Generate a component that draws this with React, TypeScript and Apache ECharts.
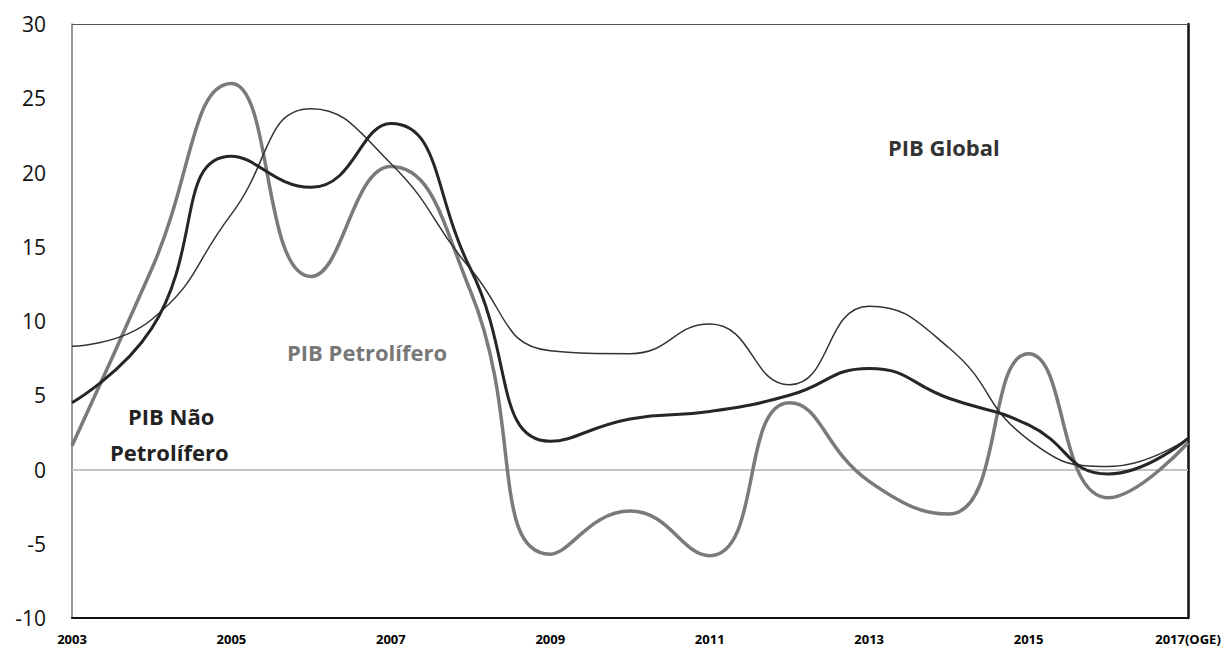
import React, { useEffect, useRef } from "react";
import * as echarts from "echarts";

const years = ["2003", "2004", "2005", "2006", "2007", "2008", "2009", "2010", "2011", "2012", "2013", "2014", "2015", "2016", "2017(OGE)"];
const pibGlobal = [4.5, 9.5, 21.1, 19.0, 23.3, 13.5, 1.9, 3.4, 3.9, 5.0, 6.8, 4.8, 3.0, -0.3, 2.1];
const pibPetrolifero = [1.6, 13.5, 26.0, 13.0, 20.4, 12.0, -5.7, -2.8, -5.8, 4.5, -0.8, -3.0, 7.8, -1.9, 1.8];
const pibNaoPetrolifero = [8.3, 10.1, 17.2, 24.3, 20.6, 13.5, 8.0, 7.8, 9.8, 5.7, 11.0, 8.2, 2.0, 0.2, 2.1];

export default function App() {
  const ref = useRef<HTMLDivElement>(null);
  useEffect(() => {
    document.body.style.margin = "0";
    const chart = echarts.init(ref.current!, null, { renderer: "svg" });
    chart.setOption({
      animation: false,
      backgroundColor: "#ffffff",
      grid: { left: 72, right: 40, top: 24, bottom: 30, show: false },
      xAxis: [
        {
          type: "category",
          data: years,
          boundaryGap: false,
          axisLine: { onZero: false, lineStyle: { color: "#111", width: 2 } },
          axisTick: { show: false },
          axisLabel: { interval: 1, color: "#000", fontWeight: "bold", fontSize: 13, fontFamily: "Open Sans", margin: 14 },
          splitLine: { show: false },
        },
        {
          type: "category",
          data: years,
          position: "top",
          boundaryGap: false,
          axisLine: { onZero: false, lineStyle: { color: "#555", width: 1 } },
          axisTick: { show: false },
          axisLabel: { show: false },
          splitLine: { show: false },
        },
      ],
      yAxis: [
        {
          type: "value",
          min: -10,
          max: 30,
          interval: 5,
          axisLine: { show: true, lineStyle: { color: "#777", width: 1.5 } },
          axisTick: { show: false },
          axisLabel: { color: "#111", fontSize: 21, fontFamily: "Open Sans", margin: 26 },
          splitLine: { show: false },
        },
        {
          type: "value",
          min: -10,
          max: 30,
          interval: 5,
          position: "right",
          axisLine: { show: true, lineStyle: { color: "#111", width: 2.5 } },
          axisTick: { show: false },
          axisLabel: { show: false },
          splitLine: { show: false },
        },
      ],
      series: [
        {
          name: "PIB Não Petrolífero",
          type: "line",
          data: pibNaoPetrolifero,
          smooth: 0.5,
          symbol: "none",
          lineStyle: { color: "#333", width: 1.5 },
          z: 3,
        },
        {
          name: "PIB Petrolífero",
          type: "line",
          data: pibPetrolifero,
          smooth: 0.5,
          symbol: "none",
          lineStyle: { color: "#7a7a7a", width: 3.5 },
          z: 2,
          markLine: {
            silent: true,
            symbol: "none",
            label: { show: false },
            lineStyle: { color: "#c4c4c4", width: 2, type: "solid" },
            data: [{ yAxis: 0 }],
            z: 1,
          },
        },
        {
          name: "PIB Global",
          type: "line",
          data: pibGlobal,
          smooth: 0.5,
          symbol: "none",
          lineStyle: { color: "#262626", width: 3 },
          z: 4,
        },
      ],
      graphic: [
        { type: "text", left: 888, top: 136, style: { text: "PIB Global", fontSize: 22, fontWeight: "bold", fontFamily: "Open Sans", fill: "#333" } },
        { type: "text", left: 287, top: 341, style: { text: "PIB Petrolífero", fontSize: 22, fontWeight: "bold", fontFamily: "Open Sans", fill: "#777" } },
        { type: "text", left: 128, top: 405, style: { text: "PIB Não", fontSize: 22, fontWeight: "bold", fontFamily: "Open Sans", fill: "#222" } },
        { type: "text", left: 110, top: 441, style: { text: "Petrolífero", fontSize: 22, fontWeight: "bold", fontFamily: "Open Sans", fill: "#222" } },
      ],
    });
    return () => chart.dispose();
  }, []);
  return <div ref={ref} style={{ width: 1228, height: 648, position: "absolute", left: 0, top: 0 }} />;
}
